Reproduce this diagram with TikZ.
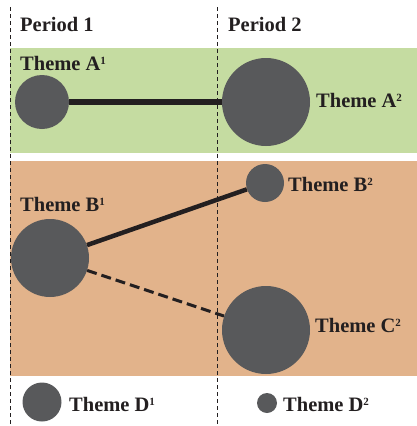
\documentclass[tikz,border=0pt]{standalone}
\usepackage{fontspec}
\setmainfont{Liberation Serif}
\usetikzlibrary{positioning}
\definecolor{bandgreen}{RGB}{197,220,161}
\definecolor{bandtan}{RGB}{226,179,139}
\definecolor{themegray}{RGB}{88,89,91}
\definecolor{inkblack}{RGB}{35,31,32}
\newcommand{\tsup}[1]{\raisebox{0.55ex}{\fontsize{11}{12}\selectfont #1}}
\begin{document}
\begin{tikzpicture}[x=1pt, y=-1pt, font=\fontsize{20.5}{22}\selectfont\bfseries, text=inkblack]
    \useasboundingbox (0,0) rectangle (417,426);

    % Define styles
    \tikzstyle{theme}=[circle, fill=themegray, inner sep=0pt]
    \tikzstyle{tag}=[anchor=west, inner sep=0pt]
    \tikzstyle{link}=[draw=inkblack, line width=4.5pt]
    \tikzstyle{divider}=[draw=inkblack, line width=0.8pt, dash pattern=on 4pt off 3pt]

    % Bands and period dividers
    \fill[bandgreen] (10,48) rectangle (417,153);
    \fill[bandtan] (10,161) rectangle (417,376);
    \draw[divider] (10,7) -- (10,426);
    \draw[divider] (217,7) -- (217,426);

    \node[tag] (P1) at (20,24) {Period 1};
    \node[tag] (P2) at (228,24) {Period 2};

    % Themes
    \node[theme, minimum size=54pt] (A1) at (42,102) {};
    \node[theme, minimum size=88pt] (A2) at (266,102) {};
    \node[theme, minimum size=78pt] (B1) at (50,258) {};
    \node[theme, minimum size=38pt] (B2) at (265,183) {};
    \node[theme, minimum size=88pt] (C2) at (266,330) {};
    \node[theme, minimum size=39pt] (D1) at (42,402) {};
    \node[theme, minimum size=20pt] (D2) at (267,403) {};

    \node[tag] (A1label) at (20,63) {Theme A\tsup{1}};
    \node[tag] (A2label) at (316,100) {Theme A\tsup{2}};
    \node[tag] (B1label) at (20,204) {Theme B\tsup{1}};
    \node[tag] (B2label) at (288,184) {Theme B\tsup{2}};
    \node[tag] (C2label) at (315,325) {Theme C\tsup{2}};
    \node[tag] (D1label) at (69,404) {Theme D\tsup{1}};
    \node[tag] (D2label) at (283,404) {Theme D\tsup{2}};

    % Links
    \draw[link, line width=6pt] (A1) -- (A2);
    \draw[link] (B1) -- (B2);
    \draw[link, line width=3pt, dash pattern=on 10pt off 5pt] (B1) -- (C2);
\end{tikzpicture}
\end{document}
